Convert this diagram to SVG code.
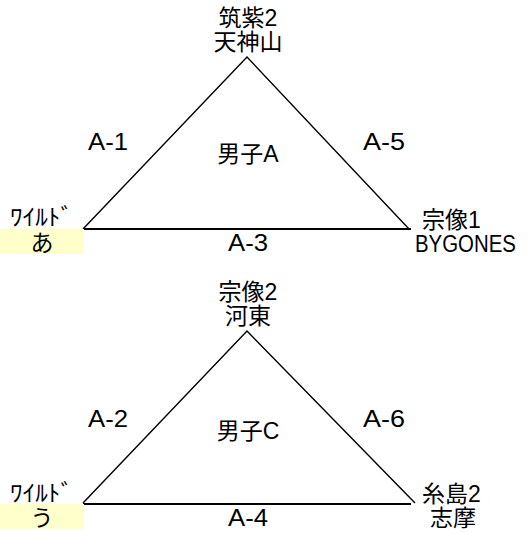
<svg xmlns="http://www.w3.org/2000/svg" width="528" height="533" viewBox="0 0 528 533">
<style>
text{font-family:"Liberation Sans","Noto Sans CJK JP",sans-serif;font-size:23px;fill:#000}
.c{text-anchor:middle}
.side{fill:none;stroke:#000;stroke-width:1.4}
.base{fill:none;stroke:#000;stroke-width:2.2}
.hl{fill:#FFFFCC}
</style>
<rect width="528" height="533" fill="#fff"/>
<g id="connectors">
<path class="side" d="M83,229 L247,57 L409,229"/>
<line class="base" x1="83" y1="229" x2="411" y2="229"/>
<path class="side" d="M83,503 L247,331 L415,503"/>
<line class="base" x1="83" y1="504" x2="411" y2="504"/>
</g>
<g id="groupA">
<text class="c" x="248" y="162">男子A</text>
<text x="88" y="150" textLength="40" lengthAdjust="spacingAndGlyphs">A-1</text>
<text x="363" y="150" textLength="42" lengthAdjust="spacingAndGlyphs">A-5</text>
<text x="228" y="251" textLength="40" lengthAdjust="spacingAndGlyphs">A-3</text>
</g>
<g id="node-chikushi2">
<text class="c" x="248" y="26">筑紫2</text>
<text class="c" x="248" y="50">天神山</text>
</g>
<g id="node-wild-a">
<rect class="hl" x="0" y="229" width="84" height="25"/>
<text x="10" y="225" font-size="24" textLength="63" lengthAdjust="spacingAndGlyphs">ﾜｲﾙﾄﾞ</text>
<text class="c" x="42" y="251">あ</text>
</g>
<g id="node-munakata1">
<text x="422" y="228">宗像1</text>
<text x="415" y="252" font-size="19" textLength="101" lengthAdjust="spacingAndGlyphs">BYGONES</text>
</g>
<g id="groupC">
<text class="c" x="248" y="439">男子C</text>
<text x="88" y="427" textLength="40" lengthAdjust="spacingAndGlyphs">A-2</text>
<text x="363" y="427" textLength="42" lengthAdjust="spacingAndGlyphs">A-6</text>
<text x="228" y="526" textLength="40" lengthAdjust="spacingAndGlyphs">A-4</text>
</g>
<g id="node-munakata2">
<text class="c" x="248" y="300">宗像2</text>
<text class="c" x="248" y="324">河東</text>
</g>
<g id="node-wild-u">
<rect class="hl" x="0" y="504" width="84" height="25"/>
<text x="10" y="501" font-size="24" textLength="63" lengthAdjust="spacingAndGlyphs">ﾜｲﾙﾄﾞ</text>
<text class="c" x="42" y="526">う</text>
</g>
<g id="node-itoshima2">
<text x="422" y="502">糸島2</text>
<text x="430" y="526">志摩</text>
</g>
</svg>
